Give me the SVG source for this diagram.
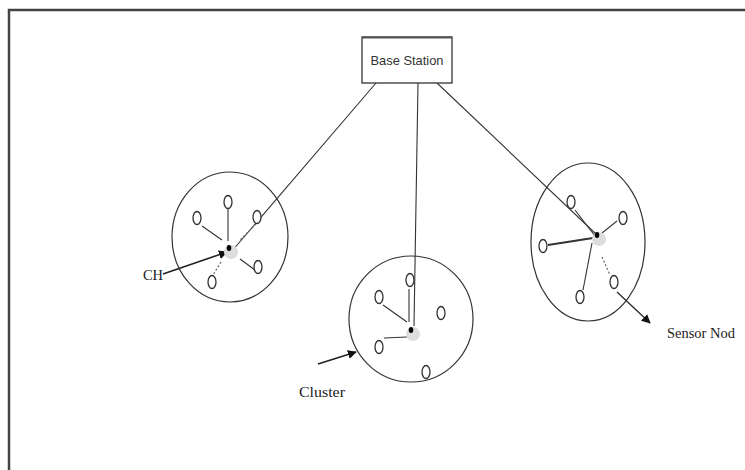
<svg xmlns="http://www.w3.org/2000/svg" width="745" height="470" viewBox="0 0 745 470">
<style>
.frame{fill:none;stroke:#444;stroke-width:2.5}
.cl{fill:none;stroke:#333;stroke-width:1.2}
.sn{fill:#fff;stroke:#333;stroke-width:1.3}
.ln{stroke:#333;stroke-width:1.1;fill:none}
.dl{stroke:#666;stroke-width:1.2;stroke-dasharray:2 2;fill:none}
.glow{fill:#ddd}
.dot{fill:#000}
.lab{font-family:"Liberation Serif",serif;font-size:15px;fill:#222}
.bs{font-family:"Liberation Sans Narrow","Liberation Sans",Arial,sans-serif;font-size:13.5px;fill:#333}
</style>
<defs>
<marker id="ah" viewBox="0 0 10 10" refX="9" refY="5" markerWidth="9" markerHeight="9" markerUnits="userSpaceOnUse" orient="auto">
<path d="M0,0 L10,5 L0,10 z" fill="#111"/>
</marker>
</defs>
<rect class="frame" x="9" y="10" width="760" height="480"/>
<g id="connectors">
<line class="ln" x1="376" y1="83" x2="232" y2="251"/>
<line class="ln" x1="418" y1="83" x2="414" y2="326"/>
<line class="ln" x1="437" y1="83" x2="597" y2="235"/>
<line class="ln" x1="163" y1="274" x2="227" y2="252" marker-end="url(#ah)" style="stroke:#222;stroke-width:1.6"/>
<line class="ln" x1="318" y1="364" x2="356" y2="352" marker-end="url(#ah)" style="stroke:#222;stroke-width:1.6"/>
<line class="ln" x1="617" y1="292" x2="650" y2="323" marker-end="url(#ah)" style="stroke:#222;stroke-width:1.2"/>
</g>
<g id="cluster-left">
<ellipse class="cl" cx="230" cy="237" rx="58" ry="65"/>
<line class="ln" x1="228" y1="209" x2="228" y2="241"/>
<line class="ln" x1="202" y1="226" x2="222" y2="240"/>
<line class="dl" x1="256" y1="224" x2="239" y2="241"/>
<line class="ln" x1="240" y1="259" x2="255" y2="270"/>
<line class="dl" x1="221" y1="262" x2="213" y2="275"/>
<circle class="glow" cx="231" cy="252" r="7"/>
<ellipse class="dot" cx="229" cy="248" rx="2.3" ry="3"/>
<ellipse class="sn" cx="228" cy="202" rx="4" ry="6.5"/>
<ellipse class="sn" cx="197" cy="218" rx="4" ry="6.5"/>
<ellipse class="sn" cx="257" cy="217" rx="4" ry="6.5"/>
<ellipse class="sn" cx="258" cy="267" rx="4" ry="6.5"/>
<ellipse class="sn" cx="212" cy="282" rx="4" ry="6.5"/>
</g>
<g id="cluster-middle">
<ellipse class="cl" cx="411" cy="319" rx="62" ry="63"/>
<line class="ln" x1="409" y1="289" x2="409" y2="322"/>
<line class="ln" x1="383" y1="305" x2="407" y2="322"/>
<line class="ln" x1="384" y1="338" x2="407" y2="337"/>
<circle class="glow" cx="413" cy="334" r="7"/>
<ellipse class="dot" cx="411" cy="330" rx="2.3" ry="3"/>
<ellipse class="sn" cx="410" cy="280" rx="4" ry="6.5"/>
<ellipse class="sn" cx="379" cy="297" rx="4" ry="6.5"/>
<ellipse class="sn" cx="441" cy="313" rx="4" ry="6.5"/>
<ellipse class="sn" cx="379" cy="347" rx="4" ry="6.5"/>
<ellipse class="sn" cx="426" cy="372" rx="4" ry="6.5"/>
</g>
<g id="cluster-right">
<ellipse class="cl" cx="588" cy="242" rx="57" ry="79"/>
<line class="ln" x1="575" y1="210" x2="595" y2="236"/>
<line class="ln" x1="617" y1="221" x2="602" y2="233"/>
<line class="ln" x1="548" y1="245" x2="593" y2="238" style="stroke-width:1.8"/>
<line class="ln" x1="592" y1="243" x2="583" y2="290"/>
<line class="dl" x1="602" y1="257" x2="610" y2="275"/>
<circle class="glow" cx="599" cy="239" r="7"/>
<ellipse class="dot" cx="597" cy="235" rx="2.3" ry="3"/>
<ellipse class="sn" cx="571" cy="202" rx="4" ry="6.5"/>
<ellipse class="sn" cx="623" cy="218" rx="4" ry="6.5"/>
<ellipse class="sn" cx="543" cy="246" rx="4" ry="6.5"/>
<ellipse class="sn" cx="614" cy="282" rx="4" ry="6.5"/>
<ellipse class="sn" cx="580" cy="297" rx="4" ry="6.5"/>
</g>
<g id="base-station">
<rect x="362" y="37" width="90" height="46" fill="#fff" stroke="#333" stroke-width="1.3"/>
<line x1="362" y1="37.5" x2="452" y2="37.5" stroke="#555" stroke-width="2"/>
<text class="bs" x="407" y="65" text-anchor="middle" textLength="73" lengthAdjust="spacingAndGlyphs">Base Station</text>
</g>
<g id="labels">
<text class="lab" x="143" y="280" textLength="20" lengthAdjust="spacingAndGlyphs">CH</text>
<text class="lab" x="299" y="397" textLength="46" lengthAdjust="spacingAndGlyphs">Cluster</text>
<text class="lab" x="667" y="338" textLength="68" lengthAdjust="spacingAndGlyphs">Sensor Nod</text>
</g>
</svg>
